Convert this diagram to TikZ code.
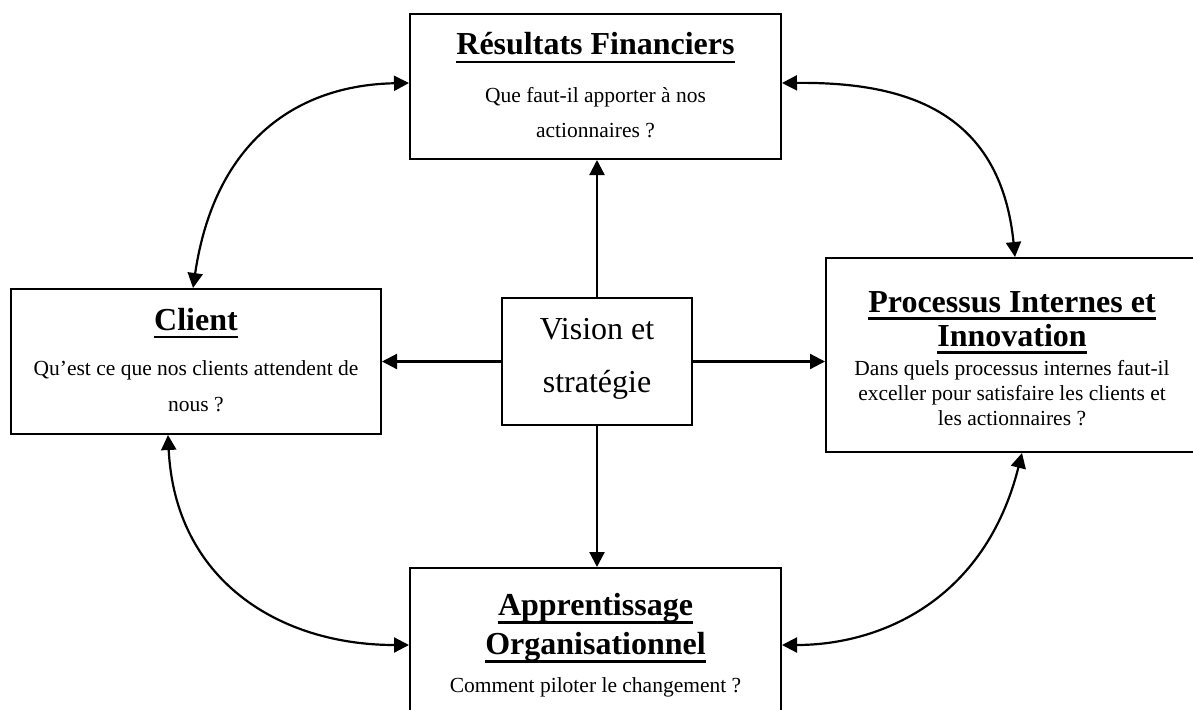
\documentclass[tikz,border=0pt]{standalone}
\usepackage{fontspec}
\setmainfont{Liberation Serif}
\usetikzlibrary{arrows.meta}
\begin{document}
\begin{tikzpicture}[x=1pt,y=-1pt,
  box/.style={draw, line width=2pt, inner sep=0pt},
  ttl/.style={anchor=base, inner sep=0pt, font=\fontsize{32}{36}\selectfont\bfseries},
  txt/.style={anchor=base, inner sep=0pt, font=\fontsize{21.5}{25}\selectfont},
  big/.style={anchor=base, inner sep=0pt, font=\fontsize{32}{36}\selectfont},
  ul/.style={line width=2.6pt},
  link/.style={line width=2.2pt, -{Triangle[length=15pt,width=15pt]}},
  dlink/.style={line width=2.2pt, {Triangle[length=15pt,width=15pt]}-{Triangle[length=15pt,width=15pt]}}]
\useasboundingbox (0,0) rectangle (1193,709);

% frames of the five perspectives
\node[box, minimum width=371pt, minimum height=145pt] (fin)  at (595.5,86.5) {};
\node[box, minimum width=370pt, minimum height=145pt] (cli)  at (196,361.5) {};
\node[box, minimum width=190pt, minimum height=127pt] (vis)  at (597,361.5) {};
\node[box, minimum width=372pt, minimum height=194pt] (proc) at (1012,355) {};
\node[box, minimum width=371pt, minimum height=147pt] (app)  at (595.5,641.5) {};

% Résultats Financiers
\node[ttl] (finT) at (595.5,55) {Résultats Financiers};
\draw[ul] ([yshift=-7pt]finT.base west) -- ([yshift=-7pt]finT.base east);
\node[txt] (finA) at (595.5,102) {Que faut-il apporter à nos};
\node[txt] (finB) at (595.5,137) {actionnaires ?};

% Client
\node[ttl] (cliT) at (196,330) {Client};
\draw[ul] ([yshift=-7pt]cliT.base west) -- ([yshift=-7pt]cliT.base east);
\node[txt] (cliA) at (196,375.5) {Qu’est ce que nos clients attendent de};
\node[txt] (cliB) at (196,411.5) {nous ?};

% Vision et stratégie
\node[big] (visA) at (597,339) {Vision et};
\node[big] (visB) at (597,392) {stratégie};

% Processus Internes et Innovation
\node[ttl] (procT) at (1012,312) {Processus Internes et};
\draw[ul] ([yshift=-6.5pt]procT.base west) -- ([yshift=-6.5pt]procT.base east);
\node[ttl] (procU) at (1012,346) {Innovation};
\draw[ul] ([yshift=-6.5pt]procU.base west) -- ([yshift=-6.5pt]procU.base east);
\node[txt] (procA) at (1012,375) {Dans quels processus internes faut-il};
\node[txt] (procB) at (1012,400) {exceller pour satisfaire les clients et};
\node[txt] (procC) at (1012,425) {les actionnaires ?};

% Apprentissage Organisationnel
\node[ttl] (appT) at (595.5,615) {Apprentissage};
\draw[ul] ([yshift=-7.5pt]appT.base west) -- ([yshift=-7.5pt]appT.base east);
\node[ttl] (appU) at (595.5,654) {Organisationnel};
\draw[ul] ([yshift=-7.5pt]appU.base west) -- ([yshift=-7.5pt]appU.base east);
\node[txt] (appA) at (595.5,692) {Comment piloter le changement ?};

% straight links from the centre
\draw[link] (vis.north) -- (vis.north |- fin.south);
\draw[link] (vis.west) -- (vis.west -| cli.east);
\draw[link] (vis.east) -- (vis.east -| proc.west);
\draw[link] (vis.south) -- (vis.south |- app.north);

% curved two-way links around the ring
\draw[dlink] ([yshift=3.5pt]fin.west) .. controls +(-110,2) and +(22,-149) .. ([xshift=-3pt]cli.north);
\draw[dlink] ([yshift=3.5pt]fin.east) .. controls +(119,-1) and +(-15,-149) .. ([xshift=3pt]proc.north);
\draw[dlink] ([xshift=-28pt]cli.south) .. controls +(7,145) and +(-130,0) .. ([yshift=-3.5pt]app.west);
\draw[dlink] ([yshift=-3.5pt]app.east) .. controls +(99,0) and +(-37,147) .. ([xshift=10pt]proc.south);
\end{tikzpicture}
\end{document}
